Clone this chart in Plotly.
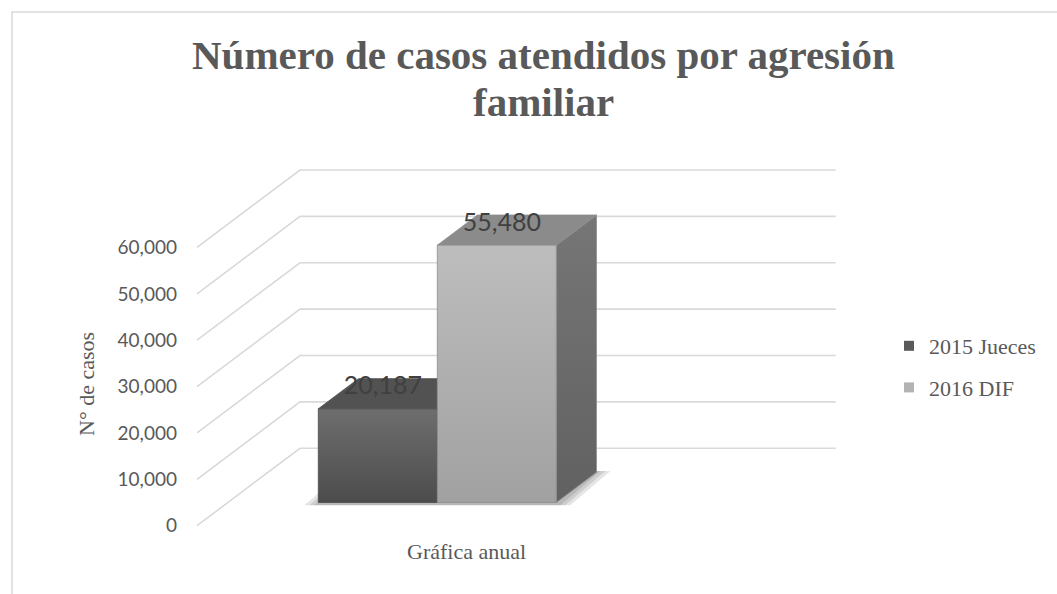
import plotly.graph_objects as go

# data
series_names = ['2015 Jueces', '2016 DIF']
case_values = [20187, 55480]
tick_values = [0, 10000, 20000, 30000, 40000, 50000, 60000]
category_label = 'Gráfica anual'

# styling
TEXT = '#595959'
GRID = '#d9d9d9'
FRONT = [('#4c4c4c', '#6e6e6e'), ('#a1a1a1', '#bdbdbd')]   # bottom, top
TOP = ['#525252', '#8b8b8b']
SIDE = [('#4a4a4a', '#5c5c5c'), ('#616161', '#767676')]
EDGE = ['#4a4a4a', '#8d8d8d']
LEGEND_SWATCH = ['#5a5a5a', '#b3b3b3']

# fake 3D geometry (oblique projection)
DX, DV = 103, 16700          # depth shift: x units, value units
F0, F1 = 0.30, 0.69          # bar depth inside the floor
BAR_LEFT, BAR_W = 90.4, 119
X_END = 638.7

W, H = 1057, 594
L, R, T, B = 196, 221, 164, 59


def px(x):
    return (x - L) / (W - L - R)


def py(y):
    return (H - B - y) / (H - T - B)


fig = go.Figure()

# gridlines: diagonal on the side wall, then flat along the back wall
gx, gy = [], []
for v in tick_values:
    gx += [0, DX, X_END, None]
    gy += [v, v + DV, v + DV, None]
fig.add_trace(go.Scatter(x=gx, y=gy, mode='lines', line=dict(color=GRID, width=1.6),
                         hoverinfo='skip', showlegend=False))


def poly(xs, ys, colors=None, fill=None, edge=None, opacity=1.0):
    kw = dict(x=xs + [xs[0]], y=ys + [ys[0]], mode='lines', fill='toself',
              line=dict(color=edge or 'rgba(0,0,0,0)', width=0.8),
              hoverinfo='skip', showlegend=False, opacity=opacity)
    if colors:
        kw['fillgradient'] = dict(type='vertical', colorscale=[[0, colors[0]], [1, colors[1]]])
    else:
        kw['fillcolor'] = fill
    fig.add_trace(go.Scatter(**kw))


# soft floor shadow under the bars
gl = BAR_LEFT
gr = BAR_LEFT + BAR_W * len(case_values)
for e in (14, 9, 4):
    xs = [gl - e + F0 * DX, gr + e + F0 * DX, gr + e + F1 * DX, gl - e + F1 * DX]
    ys = [F0 * DV - 600, F0 * DV - 600, F1 * DV + 300, F1 * DV + 300]
    poly(xs, ys, fill='rgba(0,0,0,0.10)')

# bars: side, top, front faces
for i, v in enumerate(case_values):
    xl = BAR_LEFT + i * BAR_W
    xr = xl + BAR_W
    a0, a1 = F0 * DX, F1 * DX
    b0, b1 = F0 * DV, F1 * DV
    poly([xr + a0, xr + a1, xr + a1, xr + a0], [b0, b1, b1 + v, b0 + v],
         colors=SIDE[i], edge=EDGE[i])
    poly([xl + a0, xr + a0, xr + a1, xl + a1], [b0 + v, b0 + v, b1 + v, b1 + v],
         fill=TOP[i], edge=EDGE[i])
    poly([xl + a0, xr + a0, xr + a0, xl + a0], [b0, b0, b0 + v, b0 + v],
         colors=FRONT[i], edge=EDGE[i])

# data labels
lab_x = [BAR_LEFT + (i + 0.5) * BAR_W + F0 * DX + 5 for i in range(len(case_values))]
lab_y = [v + F0 * DV + 4500 for v in case_values]
fig.add_trace(go.Scatter(x=lab_x, y=lab_y, mode='text',
                         text=[f'{v:,}' for v in case_values],
                         textfont=dict(family='Lato', size=25, color='#404040'),
                         hoverinfo='skip', showlegend=False))

# legend entries
for i, name in enumerate(series_names):
    fig.add_trace(go.Scatter(x=[None], y=[None], mode='markers', name=name,
                             legendgroup=name,
                             marker=dict(symbol='square', size=10, color=LEGEND_SWATCH[i])))

title_font = dict(family='Liberation Serif', size=41, color=TEXT)
fig.update_layout(
    width=W, height=H,
    margin=dict(l=L, r=R, t=T, b=B),
    paper_bgcolor='white', plot_bgcolor='white',
    xaxis=dict(range=[-1, 639], visible=False, fixedrange=True),
    yaxis=dict(range=[-2000, 78000], tickvals=tick_values, tickformat=',',
               showgrid=False, zeroline=False, showline=False, ticks='',
               ticklabelstandoff=18, fixedrange=True,
               tickfont=dict(family='Lato', size=19, color=TEXT)),
    legend=dict(x=px(889), y=py(367), xanchor='left', yanchor='middle',
                font=dict(family='Liberation Serif', size=22, color=TEXT),
                tracegroupgap=10, itemwidth=30, bgcolor='rgba(0,0,0,0)'),
    showlegend=True,
    annotations=[
        dict(text='<b>Número de casos atendidos por agresión</b>', x=px(543), y=py(55),
             xref='paper', yref='paper', showarrow=False, xanchor='center', yanchor='middle',
             font=title_font),
        dict(text='<b>familiar</b>', x=px(543), y=py(102),
             xref='paper', yref='paper', showarrow=False, xanchor='center', yanchor='middle',
             font=title_font),
        dict(text='N° de casos', x=px(86), y=py(384), textangle=-90,
             xref='paper', yref='paper', showarrow=False, xanchor='center', yanchor='middle',
             font=dict(family='Liberation Serif', size=22, color=TEXT)),
        dict(text=category_label, x=px(466), y=py(551),
             xref='paper', yref='paper', showarrow=False, xanchor='center', yanchor='middle',
             font=dict(family='Liberation Serif', size=22, color=TEXT)),
    ],
    shapes=[dict(type='rect', xref='paper', yref='paper',
                 x0=px(12), x1=px(1075), y0=py(12), y1=py(620),
                 line=dict(color=GRID, width=1.5), layer='below')],
)

fig.write_html('out.html', config={'displayModeBar': False},
               post_script="document.body.style.margin='0';")
